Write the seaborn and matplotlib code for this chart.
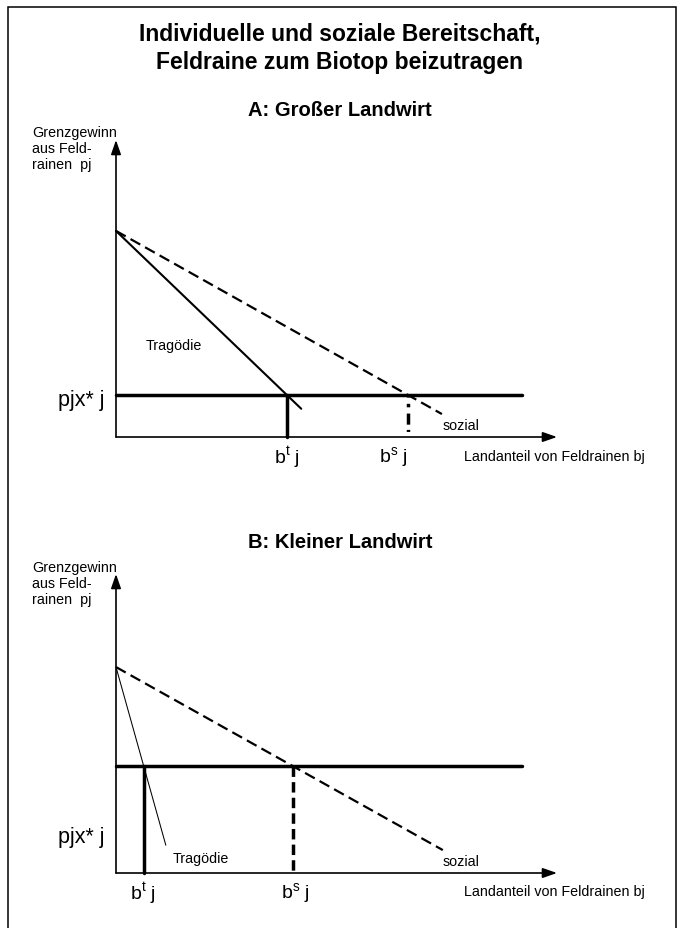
import matplotlib
matplotlib.use("Agg")
import matplotlib.pyplot as plt
import seaborn as sns
from matplotlib.patches import Rectangle

x_max = 10.0
hline_end = 9.2

# A: Grosser Landwirt
y_max_a = 6.73
start_a = 4.67
pjx_a = 0.95
bt_a = 3.88
bs_a = 6.62
trag_a_x = [0.0, 4.20]
trag_a_y = [4.67, 0.64]
sozial_a_x = [0.0, 7.39]
sozial_a_y = [4.67, 0.52]

# B: Kleiner Landwirt
y_max_b = 6.78
start_b = 4.67
pjx_b = 2.43
bt_b = 0.63
bs_b = 4.01
trag_b_x = [0.0, 1.13]
trag_b_y = [4.67, 0.63]
sozial_b_x = [0.0, 7.41]
sozial_b_y = [4.67, 0.52]

titel = ["Individuelle und soziale Bereitschaft,", "Feldraine zum Biotop beizutragen"]
ylabel = "Grenzgewinn\naus Feld-\nrainen  pj"
xlabel = "Landanteil von Feldrainen bj"

sns.set_style("white")
plt.rcParams['font.family'] = ['Liberation Sans', 'DejaVu Sans']
plt.rcParams['text.color'] = 'black'

W, H = 683, 929
fig = plt.figure(figsize=(W / 100, H / 100), dpi=100)


def fx(px):
    return px / W


def fy(py):
    return 1 - py / H


def panel(ax, ymax, pjx, bt, bs, tx, ty, sx, sy, trag_lw, bs_style):
    ax.set_xlim(0, x_max)
    ax.set_ylim(0, ymax)
    ax.axis('off')
    # Achsen mit Pfeil
    arrow = dict(arrowstyle="-|>,head_length=0.86,head_width=0.3", lw=1.2,
                 color='black', shrinkA=0, shrinkB=0, mutation_scale=10)
    ax.annotate("", xy=(x_max, 0), xytext=(0, 0), arrowprops=arrow, annotation_clip=False)
    ax.annotate("", xy=(0, ymax), xytext=(0, 0), arrowprops=arrow, annotation_clip=False)

    sns.lineplot(x=tx, y=ty, ax=ax, color='black', linewidth=trag_lw,
                 estimator=None, sort=False, clip_on=False)
    sns.lineplot(x=sx, y=sy, ax=ax, color='black', linewidth=1.6,
                 linestyle=(0, (5, 2.5)), estimator=None, sort=False, clip_on=False)
    sns.lineplot(x=[0, hline_end], y=[pjx, pjx], ax=ax, color='black', linewidth=2.5,
                 estimator=None, sort=False, clip_on=False)
    sns.lineplot(x=[bt, bt], y=[0, pjx], ax=ax, color='black', linewidth=2.5,
                 estimator=None, sort=False, clip_on=False)
    sns.lineplot(x=[bs, bs], y=[pjx, 0], ax=ax, color='black', linewidth=2.5,
                 linestyle=bs_style, estimator=None, sort=False, clip_on=False)


ax_a = fig.add_axes([fx(116), fy(438), fx(441), 297 / H])
ax_b = fig.add_axes([fx(116), fy(874), fx(441), 299 / H])

panel(ax_a, y_max_a, pjx_a, bt_a, bs_a, trag_a_x, trag_a_y, sozial_a_x, sozial_a_y,
      1.5, (0, (0.6, 1.8, 1, 1.8, 3.2, 1.5)))
panel(ax_b, y_max_b, pjx_b, bt_b, bs_b, trag_b_x, trag_b_y, sozial_b_x, sozial_b_y,
      0.75, (0, (3, 1.5)))

small = 10.3
# Texte Panel A
ax_a.text(0.68, 2.09, "Tragödie", fontsize=small, ha='left', va='center')
ax_a.text(7.41, 0.27, "sozial", fontsize=small, ha='left', va='center')
ax_a.text(-0.25, 0.86, "pjx* j", fontsize=15.5, ha='right', va='center')
ax_a.text(3.87, -0.45, r"b$^{\mathregular{t}}$ j", fontsize=14, ha='center', va='center')
ax_a.text(6.30, -0.45, r"b$^{\mathregular{s}}$ j", fontsize=14, ha='center', va='center')
ax_a.text(7.89, -0.43, xlabel, fontsize=small, ha='left', va='center')
ax_a.text(-1.91, 6.55, ylabel, fontsize=small, ha='left', va='center')

# Texte Panel B
ax_b.text(1.29, 0.34, "Tragödie", fontsize=small, ha='left', va='center')
ax_b.text(7.41, 0.27, "sozial", fontsize=small, ha='left', va='center')
ax_b.text(-0.25, 0.82, "pjx* j", fontsize=15.5, ha='right', va='center')
ax_b.text(0.62, -0.45, r"b$^{\mathregular{t}}$ j", fontsize=14, ha='center', va='center')
ax_b.text(4.06, -0.45, r"b$^{\mathregular{s}}$ j", fontsize=14, ha='center', va='center')
ax_b.text(7.89, -0.41, xlabel, fontsize=small, ha='left', va='center')
ax_b.text(-1.91, 6.58, ylabel, fontsize=small, ha='left', va='center')

# Titel
fig.text(fx(340), fy(34), titel[0], fontsize=16.5, fontweight='bold', ha='center', va='center')
fig.text(fx(340), fy(62), titel[1], fontsize=16.5, fontweight='bold', ha='center', va='center')
fig.text(fx(340), fy(111), "A: Großer Landwirt", fontsize=14.5, fontweight='bold',
         ha='center', va='center')
fig.text(fx(340), fy(543), "B: Kleiner Landwirt", fontsize=14.5, fontweight='bold',
         ha='center', va='center')

# Rahmen
fig.patches.append(Rectangle((fx(8), fy(940)), fx(668), 932 / H, transform=fig.transFigure,
                             fill=False, edgecolor='black', linewidth=1.1))

fig.savefig("out.png", dpi=100)
